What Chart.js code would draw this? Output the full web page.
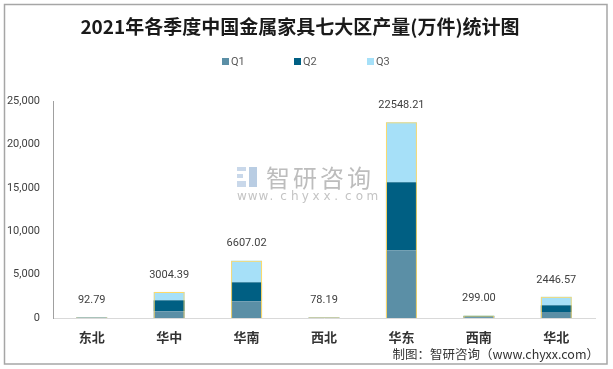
<!DOCTYPE html>
<html>
<head>
<meta charset="utf-8">
<script src="https://cdn.jsdelivr.net/npm/chart.js@4"></script>
<style>
html,body{margin:0;padding:0;background:#fff;}
#wrap{width:613px;height:369px;position:relative;}
</style>
</head>
<body>
<div id="wrap"><canvas id="c" width="613" height="369"></canvas></div>
<script>
const categories = ['东北','华中','华南','西北','华东','西南','华北'];
const q1 = [31, 772, 1924, 26, 7800, 100, 690];
const q2 = [31, 1267, 2189, 26, 7834, 100, 773];
const q3 = [30.79, 965.39, 2494.02, 26.19, 6914.21, 99, 983.57];
const totals = [92.79, 3004.39, 6607.02, 78.19, 22548.21, 299.00, 2446.57];
const totalLabels = ['92.79','3004.39','6607.02','78.19','22548.21','299.00','2446.57'];
const seriesNames = ['Q1','Q2','Q3'];
const yTicks = [0, 5000, 10000, 15000, 20000, 25000];

const colors = ['#5B8FA6', '#005F83', '#A6E0F8'];
const CJK = '"Noto Sans CJK SC", "Noto Sans", sans-serif';

const decor = {
  id: 'decor',
  beforeDatasetsDraw(chart) {
    const ctx = chart.ctx;
    ctx.save();
    // watermark logo
    ctx.fillStyle = '#C9D8EA';
    ctx.fillRect(237, 167, 9, 4);
    ctx.fillRect(237, 174, 6, 4);
    ctx.fillRect(237, 181, 9, 6);
    ctx.fillStyle = '#B9CDE3';
    ctx.fillRect(249, 167, 8, 20);
    // watermark text
    ctx.fillStyle = '#BDBDBD';
    ctx.font = '24px ' + CJK;
    ctx.textBaseline = 'middle';
    ctx.textAlign = 'left';
    const t = '智研咨询';
    for (let i = 0; i < t.length; i++) {
      ctx.fillText(t[i], 266 + i * 27, 178);
    }
    ctx.font = '12px "DejaVu Sans", sans-serif';
    ctx.fillStyle = '#C4C4C4';
    const w = 'www.chyxx.com';
    for (let i = 0; i < w.length; i++) {
      ctx.fillText(w[i], 237 + i * 10.8, 197);
    }
    ctx.restore();
  },
  afterDraw(chart) {
    const ctx = chart.ctx;
    ctx.save();
    // outer frame
    ctx.strokeStyle = '#A6A6A6';
    ctx.lineWidth = 1.5;
    ctx.strokeRect(4.5, 4.5, 602.5, 359.5);
    // legend
    const lx = [222, 294, 367];
    ctx.font = '11px Roboto, "Noto Sans", sans-serif';
    ctx.textBaseline = 'middle';
    ctx.textAlign = 'left';
    for (let i = 0; i < seriesNames.length; i++) {
      ctx.fillStyle = colors[i];
      ctx.fillRect(lx[i], 58, 7, 7);
      ctx.fillStyle = '#595959';
      ctx.fillText(seriesNames[i], lx[i] + 9, 62);
    }
    // source
    ctx.font = '12.5px ' + CJK;
    ctx.fillStyle = '#333333';
    ctx.textAlign = 'right';
    ctx.fillText('制图：智研咨询（www.chyxx.com）', 599, 354);
    ctx.restore();
  },
  afterDatasetsDraw(chart) {
    const ctx = chart.ctx;
    const meta = chart.getDatasetMeta(3);
    ctx.save();
    ctx.font = '11px Roboto, "Noto Sans", sans-serif';
    ctx.fillStyle = '#404040';
    ctx.textAlign = 'center';
    ctx.textBaseline = 'middle';
    meta.data.forEach((el, i) => {
      ctx.fillText(totalLabels[i], el.x, el.y - 17);
    });
    ctx.restore();
  }
};

const datasets = seriesNames.map((n, i) => ({
  label: n,
  data: [q1, q2, q3][i],
  backgroundColor: colors[i],
  borderWidth: 0,
  stack: 'q',
  categoryPercentage: 1,
  barPercentage: 0.4,
  order: 1
}));
datasets.push({
  label: '合计',
  data: totals,
  backgroundColor: 'rgba(0,0,0,0)',
  borderColor: '#FFD966',
  borderWidth: 1,
  stack: 'total',
  grouped: false,
  categoryPercentage: 1,
  barPercentage: 0.4,
  order: 0
});

new Chart(document.getElementById('c'), {
  type: 'bar',
  data: { labels: categories, datasets },
  options: {
    responsive: false,
    animation: false,
    devicePixelRatio: 1,
    layout: { padding: { left: 5, right: 18, top: 0, bottom: 0 } },
    plugins: {
      legend: { display: false },
      tooltip: { enabled: false },
      title: {
        display: true,
        text: '2021年各季度中国金属家具七大区产量(万件)统计图',
        color: '#1a1a1a',
        font: { family: CJK, size: 19, weight: 'bold', lineHeight: 1.2 },
        padding: { top: 15, bottom: 63.2 }
      }
    },
    scales: {
      x: {
        stacked: true,
        grid: { display: false, drawTicks: false },
        border: { display: true, color: '#D9D9D9', width: 1 },
        ticks: { color: '#333333', font: { family: CJK, size: 13, weight: 'bold' }, padding: 11, maxRotation: 0 },
        afterFit(s) { s.height = 51; }
      },
      y: {
        stacked: true,
        min: 0, max: 25000,
        grid: { display: false, drawTicks: false },
        border: { display: true, color: '#A0A0A0', width: 1 },
        afterBuildTicks(s) { s.ticks = yTicks.map(v => ({ value: v })); },
        ticks: {
          color: '#404040',
          font: { family: 'Roboto, "Noto Sans", sans-serif', size: 11 },
          padding: 13,
          callback: v => v.toLocaleString('en-US')
        },
        afterFit(s) { s.width = 48; }
      }
    }
  },
  plugins: [decor]
});
</script>
</body>
</html>
